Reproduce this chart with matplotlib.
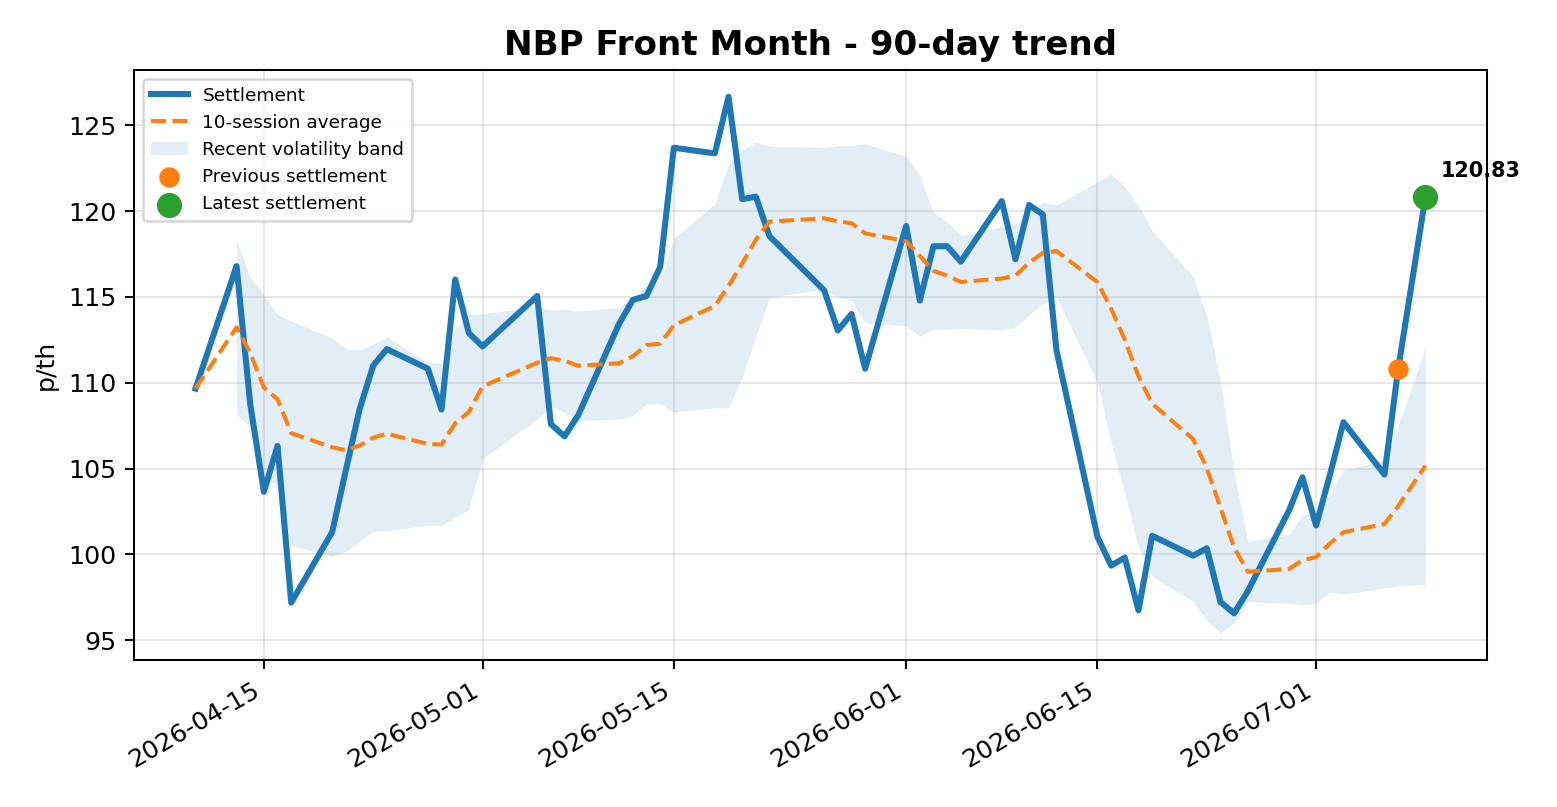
import numpy as np
import pandas as pd
import matplotlib
matplotlib.use("Agg")
import matplotlib.pyplot as plt

# settlement dates (UK business days, with a few gaps) and prices in p/th
dates = ["2026-04-10", "2026-04-13", "2026-04-14", "2026-04-15", "2026-04-16", "2026-04-17",
         "2026-04-20", "2026-04-21", "2026-04-22", "2026-04-23", "2026-04-24",
         "2026-04-27", "2026-04-28", "2026-04-29", "2026-04-30", "2026-05-01",
         "2026-05-05", "2026-05-06", "2026-05-07", "2026-05-08",
         "2026-05-11", "2026-05-12", "2026-05-13", "2026-05-14", "2026-05-15",
         "2026-05-18", "2026-05-19", "2026-05-20", "2026-05-21", "2026-05-22",
         "2026-05-26", "2026-05-27", "2026-05-28", "2026-05-29",
         "2026-06-01", "2026-06-02", "2026-06-03", "2026-06-04", "2026-06-05",
         "2026-06-08", "2026-06-09", "2026-06-10", "2026-06-11", "2026-06-12",
         "2026-06-15", "2026-06-16", "2026-06-17", "2026-06-18", "2026-06-19",
         "2026-06-22", "2026-06-23", "2026-06-24", "2026-06-25", "2026-06-26",
         "2026-06-29", "2026-06-30", "2026-07-01", "2026-07-02", "2026-07-03",
         "2026-07-06", "2026-07-07", "2026-07-09"]
settle = [109.66, 116.80, 108.77, 103.64, 106.32, 97.18,
          101.30, 104.90, 108.44, 111.00, 111.96,
          110.82, 108.44, 116.02, 112.90, 112.12,
          115.06, 107.59, 106.88, 108.10,
          113.45, 114.83, 115.06, 116.75, 123.70,
          123.37, 126.67, 120.70, 120.85, 118.54,
          115.39, 113.05, 114.01, 110.82,
          119.14, 114.79, 117.96, 117.96, 117.06,
          120.59, 117.20, 120.36, 119.81, 111.89,
          101.01, 99.34, 99.81, 96.73, 101.08,
          99.92, 100.35, 97.22, 96.56, 97.85,
          102.53, 104.49, 101.68, 104.60, 107.70,
          104.65, 110.78, 120.83]

s = pd.Series(settle, index=pd.to_datetime(dates))
avg = s.rolling(10, min_periods=1).mean()
sd = s.rolling(10, min_periods=2).std()

DPI = 182
fig, ax = plt.subplots(figsize=(1557 / DPI, 807 / DPI), dpi=DPI)

ax.plot(s.index, s.values, color="#1f77b4", lw=2.4, label="Settlement")
ax.plot(avg.index, avg.values, color="#ff7f0e", lw=1.6, ls="--", label="10-session average")
ax.fill_between(s.index, avg - sd, avg + sd, color="#1f77b4", alpha=0.13, lw=0,
                label="Recent volatility band")
ax.scatter([s.index[-2]], [s.values[-2]], color="#ff7f0e", s=50, zorder=5,
           label="Previous settlement")
ax.scatter([s.index[-1]], [s.values[-1]], color="#2ca02c", s=80, zorder=5,
           label="Latest settlement")
ax.annotate(f"{s.values[-1]:.2f}", (s.index[-1], s.values[-1]), xytext=(6, 8),
            textcoords="offset points", fontsize=8.2, fontweight="bold")

ax.set_title("NBP Front Month - 90-day trend", fontsize=13.5, fontweight="bold")
ax.set_ylabel("p/th")
ax.grid(True, alpha=0.3)
ax.legend(loc="upper left", fontsize=7.3)
fig.autofmt_xdate()
fig.subplots_adjust(left=0.0861, right=0.955, top=0.9133, bottom=0.1822)
fig.savefig("out.png", dpi=DPI)
